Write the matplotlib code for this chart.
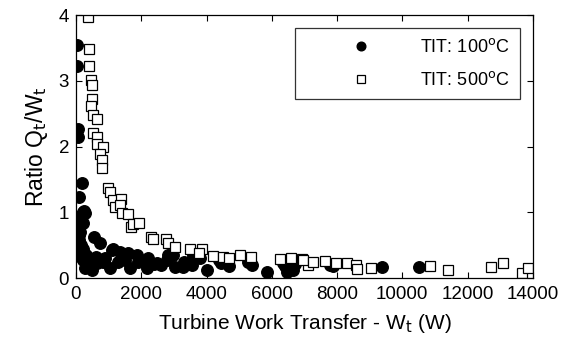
import numpy as np
import matplotlib
matplotlib.use("Agg")
import matplotlib.pyplot as plt

plt.rcParams["font.family"] = ["Liberation Sans", "DejaVu Sans"]

# ── Data: turbine work transfer (W) vs heat/work ratio ─────────────────────
# TIT = 100 C
w_100 = [20, 20, 70, 60, 180, 90, 245, 120, 270, 200, 210, 120, 90, 120,
         210, 270, 550, 740, 430, 640, 830, 1100, 1350, 1590, 1870, 2200,
         2480, 2790, 2970, 490, 1040, 1650, 2170, 3030, 3280, 3550, 3580,
         4010, 4440, 4380, 5270, 5390, 5850, 6340, 6460, 6650, 6650, 7780,
         7870, 9370, 10510, 1130, 2820, 300, 350, 600, 1300, 1900, 2600,
         3300, 4700, 6400, 150, 160, 900, 1500, 2400, 3800, 60, 100, 230,
         6550, 6700]
r_100 = [3.54, 3.22, 2.27, 2.15, 1.45, 1.23, 1.02, 0.94, 0.99, 1.00, 0.84,
         0.70, 0.58, 0.43, 0.27, 0.15, 0.62, 0.53, 0.20, 0.23, 0.24, 0.43,
         0.40, 0.38, 0.35, 0.30, 0.23, 0.27, 0.35, 0.12, 0.15, 0.15, 0.15,
         0.17, 0.17, 0.20, 0.35, 0.12, 0.23, 0.28, 0.24, 0.20, 0.09, 0.23,
         0.09, 0.12, 0.25, 0.20, 0.18, 0.17, 0.17, 0.45, 0.35, 0.35, 0.25,
         0.32, 0.25, 0.25, 0.20, 0.25, 0.18, 0.18, 0.50, 0.32, 0.30, 0.28,
         0.22, 0.30, 0.80, 0.65, 0.45, 0.18, 0.22]

# TIT = 500 C
w_500 = [370, 390, 390, 460, 480, 480, 460, 520, 640, 530, 640, 640, 820,
         740, 790, 790, 990, 1040, 1140, 1380, 1190, 1350, 1400, 1590, 1680,
         1740, 1930, 2300, 2360, 2760, 2820, 3030, 3490, 3860, 3780, 4200,
         4500, 4690, 5020, 5360, 6250, 6590, 6920, 7100, 6950, 7270, 7630,
         7970, 8300, 8580, 8620, 9030, 10840, 11400, 12720, 13080, 13660,
         13850]
r_500 = [3.97, 3.48, 3.22, 3.01, 2.93, 2.72, 2.62, 2.48, 2.42, 2.21, 2.15,
         2.04, 1.99, 1.89, 1.80, 1.67, 1.37, 1.31, 1.19, 1.20, 1.08, 1.11,
         0.99, 0.97, 0.78, 0.82, 0.84, 0.62, 0.59, 0.60, 0.53, 0.47, 0.44,
         0.44, 0.38, 0.33, 0.32, 0.31, 0.35, 0.32, 0.29, 0.30, 0.29, 0.20,
         0.27, 0.25, 0.26, 0.23, 0.23, 0.20, 0.14, 0.15, 0.18, 0.12, 0.17,
         0.23, 0.08, 0.15]

fig = plt.figure(figsize=(5.65, 3.49), dpi=100)
ax = fig.add_axes([0.1345, 0.203, 0.8085, 0.754])

ax.plot(w_100, r_100, "o", color="black", markersize=8.3,
        label=r"TIT: 100$^{\mathrm{o}}$C")
ax.plot(w_500, r_500, "s", markerfacecolor="white", markeredgecolor="black",
        markeredgewidth=0.9, markersize=6.8, label=r"TIT: 500$^{\mathrm{o}}$C")

ax.set_xlim(0, 14000)
ax.set_ylim(0, 4)
ax.set_xticks(np.arange(0, 14001, 2000))
ax.set_yticks(np.arange(0, 5, 1))
ax.tick_params(direction="in", top=True, right=True, labelsize=13.5,
               length=4, width=0.8)
ax.tick_params(axis="x", pad=6)
ax.tick_params(axis="y", pad=5)
for sp in ax.spines.values():
    sp.set_linewidth(0.9)

ax.set_xlabel(r"Turbine Work Transfer - W$_{\mathrm{t}}$ (W)", fontsize=15,
              labelpad=6)
ax.set_ylabel(r"Ratio Q$_{\mathrm{t}}$/W$_{\mathrm{t}}$", fontsize=16.5,
              labelpad=6)

leg = ax.legend(loc="upper right", bbox_to_anchor=(0.972, 0.951),
                fontsize=13, handlelength=6.2, handletextpad=0.2,
                labelspacing=0.85, borderpad=0.55, borderaxespad=0,
                fancybox=False, edgecolor="black", markerscale=0.75)
leg.get_frame().set_linewidth(0.9)

fig.savefig("out.png", dpi=100)
